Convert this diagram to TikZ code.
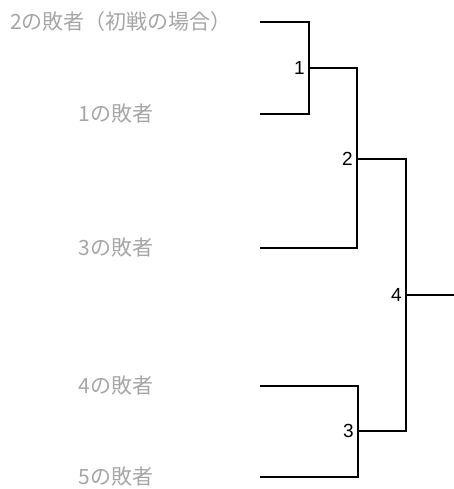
\documentclass[tikz,border=0pt]{standalone}
\usepackage{fontspec}
\newfontfamily\cjk{Noto Sans CJK JP}
\newfontfamily\numfont{Liberation Sans}
\definecolor{lbl}{HTML}{A6A6A6}
\begin{document}
\begin{tikzpicture}[x=1pt,y=-1pt,
  line/.style={draw=black,line width=2.2pt},
  loser/.style={font=\cjk\fontsize{21}{24}\selectfont,text=lbl,inner sep=0pt,anchor=center},
  matchno/.style={font=\numfont\fontsize{19}{22}\selectfont,text=black,inner sep=0pt,anchor=east}]
\useasboundingbox (0,0) rectangle (454,489);
% entry points
\coordinate (e2) at (260,22);
\coordinate (e1) at (260,114);
\coordinate (e3) at (260,248);
\coordinate (e4) at (260,386);
\coordinate (e5) at (260,477);
% match points
\coordinate (m1) at (309,68);
\coordinate (m2) at (357,159);
\coordinate (m3) at (358,431);
\coordinate (m4) at (406,295);
\coordinate (fin) at (454,295);
% loser labels
\node[loser] (l2) at (121,22) {2の敗者（初戦の場合）};
\node[loser] (l1) at (116,114) {1の敗者};
\node[loser] (l3) at (116,248) {3の敗者};
\node[loser] (l4) at (116,386) {4の敗者};
\node[loser] (l5) at (116,477) {5の敗者};
% match numbers
\node[matchno] (n1) at (305,68) {1};
\node[matchno] (n2) at (353,159) {2};
\node[matchno] (n3) at (354,431) {3};
\node[matchno] (n4) at (402,295) {4};
% brackets
\draw[line] (e2) -| (m1) |- (e1);
\draw[line] (m1) -| (m2) |- (e3);
\draw[line] (e4) -| (m3) |- (e5);
\draw[line] (m2) -| (m4) |- (m3);
\draw[line] (m4) -- (fin);
\end{tikzpicture}
\end{document}
